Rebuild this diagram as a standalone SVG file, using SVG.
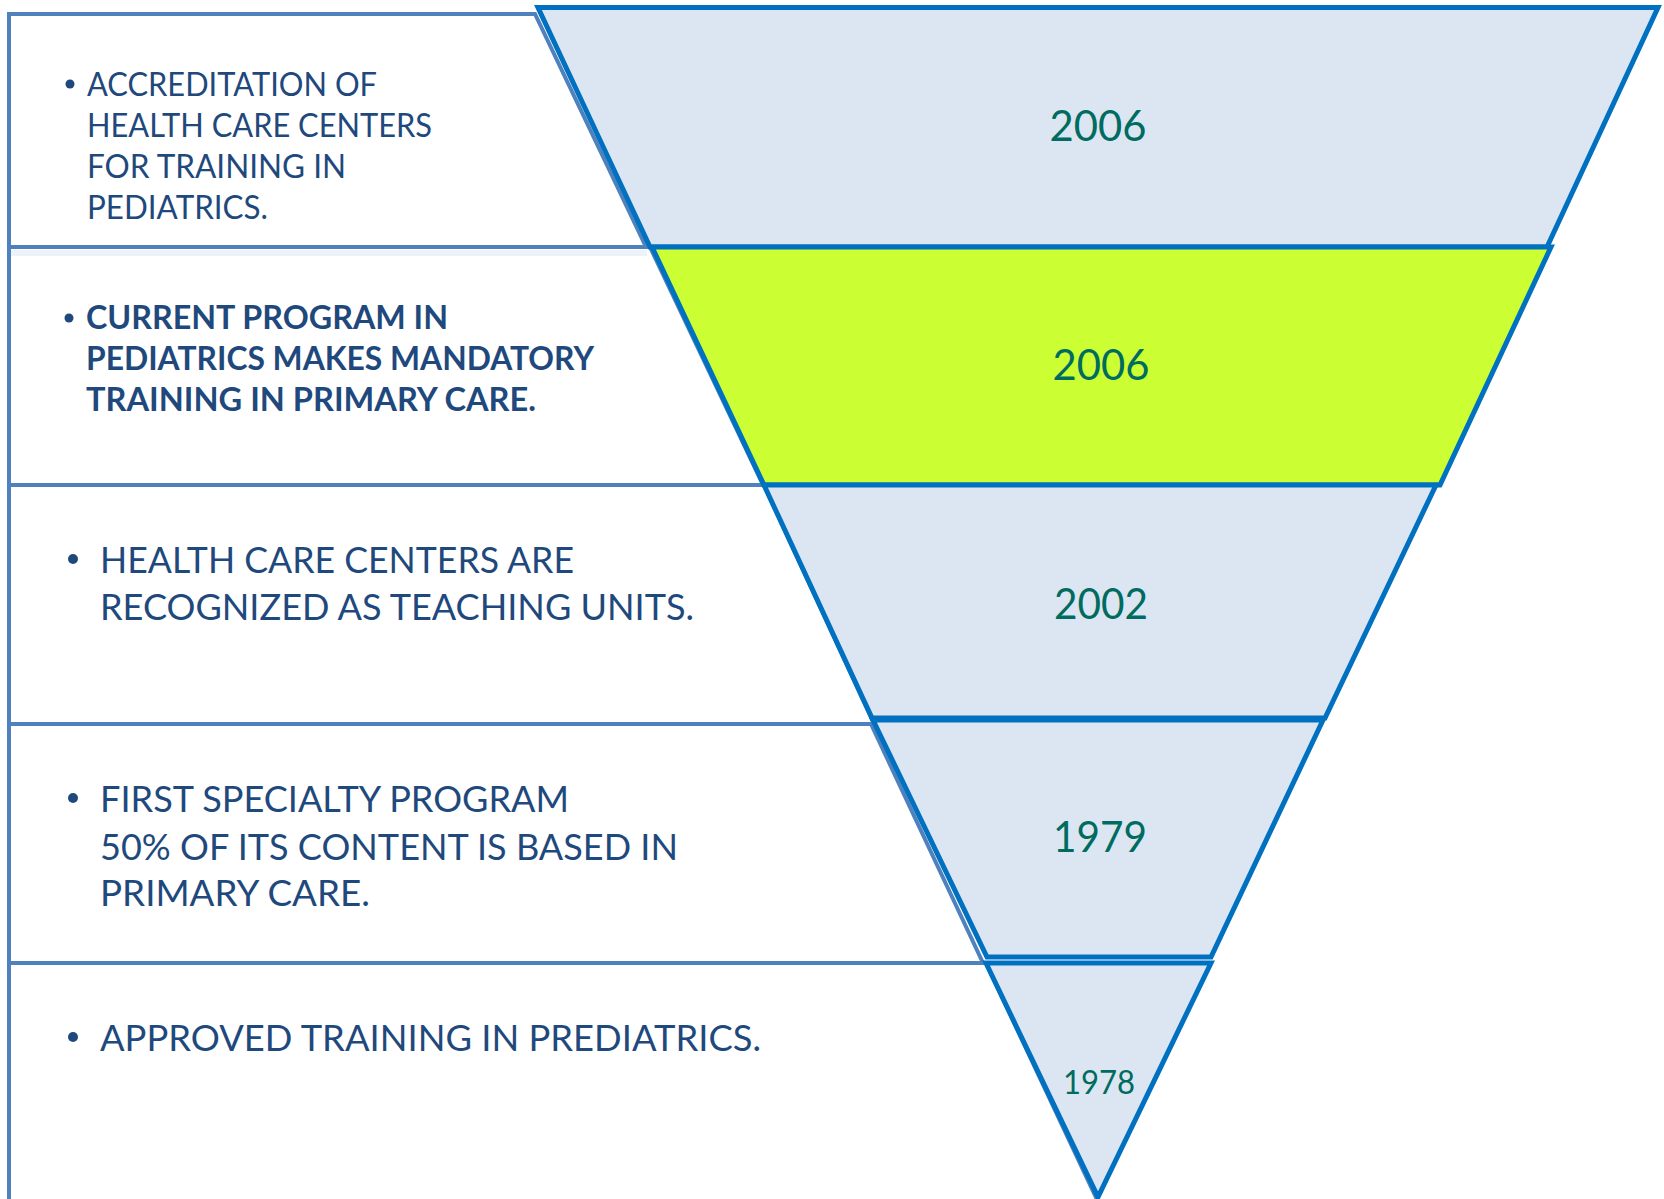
<svg xmlns="http://www.w3.org/2000/svg" width="1664" height="1199" viewBox="0 0 1664 1199">
<style>
.box{fill:#ffffff;stroke:#4f81bd;stroke-width:4;stroke-linejoin:miter}
.seg{fill:#dce6f2;stroke:#0070c0;stroke-width:5;stroke-linejoin:miter}
.hl{fill:#ccff33}
.t{font-family:Lato,"Open Sans","Liberation Sans",sans-serif;fill:#1f497d}
.s{font-size:32px}
.b{font-weight:bold}
.m{font-size:37px}
.yr{font-family:Lato,"Open Sans","Liberation Sans",sans-serif;fill:#006b5f;font-size:42px;text-anchor:middle}
.bul{fill:#1f497d}
</style>
<rect width="1664" height="1199" fill="#ffffff"/>
<g id="boxes">
  <g id="box1">
    <polygon class="box" points="9,14 535,14 646,247 9,247"/>
    <circle class="bul" cx="70" cy="84" r="4.5"/>
    <text class="t s" x="87" y="96" textLength="290" lengthAdjust="spacingAndGlyphs">ACCREDITATION OF</text>
    <text class="t s" x="87" y="137" textLength="345" lengthAdjust="spacingAndGlyphs">HEALTH CARE CENTERS</text>
    <text class="t s" x="87" y="178" textLength="259" lengthAdjust="spacingAndGlyphs">FOR TRAINING IN</text>
    <text class="t s" x="87" y="219" textLength="181" lengthAdjust="spacingAndGlyphs">PEDIATRICS.</text>
  </g>
  <g id="box2">
    <polygon class="box" points="9,247 650,247 763,485 9,485"/>
    <rect x="11" y="250" width="636" height="6" fill="#edf2f9"/>
    <circle class="bul" cx="69" cy="318" r="4.5"/>
    <text class="t s b" x="86" y="329" textLength="362" lengthAdjust="spacingAndGlyphs">CURRENT PROGRAM IN</text>
    <text class="t s b" x="86" y="370" textLength="508" lengthAdjust="spacingAndGlyphs">PEDIATRICS MAKES MANDATORY</text>
    <text class="t s b" x="86" y="411" textLength="450" lengthAdjust="spacingAndGlyphs">TRAINING IN PRIMARY CARE.</text>
  </g>
  <g id="box3">
    <polygon class="box" points="9,485 764,485 874,724 9,724"/>
    <circle class="bul" cx="73" cy="559" r="5"/>
    <text class="t m" x="100" y="573" textLength="474" lengthAdjust="spacingAndGlyphs">HEALTH CARE CENTERS ARE</text>
    <text class="t m" x="100" y="620" textLength="594" lengthAdjust="spacingAndGlyphs">RECOGNIZED AS TEACHING UNITS.</text>
  </g>
  <g id="box4">
    <polygon class="box" points="9,724 871,724 983,963 9,963"/>
    <circle class="bul" cx="73" cy="798" r="5"/>
    <text class="t m" x="100" y="812" textLength="469" lengthAdjust="spacingAndGlyphs">FIRST SPECIALTY PROGRAM</text>
    <text class="t m" x="100" y="860" textLength="578" lengthAdjust="spacingAndGlyphs">50% OF ITS CONTENT IS BASED IN</text>
    <text class="t m" x="100" y="906" textLength="270" lengthAdjust="spacingAndGlyphs">PRIMARY CARE.</text>
  </g>
  <g id="box5">
    <polygon class="box" points="9,963 986,963 1100,1206 9,1206"/>
    <circle class="bul" cx="73" cy="1037" r="5"/>
    <text class="t m" x="100" y="1051" textLength="661" lengthAdjust="spacingAndGlyphs">APPROVED TRAINING IN PREDIATRICS.</text>
  </g>
</g>
<g id="funnel">
  <g id="seg1">
    <polygon class="seg" points="538,7.5 1658,7.5 1547,247 650,247"/>
    <text class="yr" x="1098" y="141" textLength="97" lengthAdjust="spacingAndGlyphs">2006</text>
  </g>
  <g id="seg2">
    <polygon class="seg hl" points="652,247 1551,247 1440,485 764,485"/>
    <text class="yr" x="1101" y="380" textLength="97" lengthAdjust="spacingAndGlyphs">2006</text>
  </g>
  <g id="seg3">
    <polygon class="seg" points="764,485 1436,485 1325,718 872,718"/>
    <text class="yr" x="1101" y="619" textLength="94" lengthAdjust="spacingAndGlyphs">2002</text>
  </g>
  <g id="seg4">
    <polygon class="seg" points="873,720 1323,720 1211,957 987,957"/>
    <text class="yr" x="1100" y="852" textLength="94" lengthAdjust="spacingAndGlyphs">1979</text>
  </g>
  <g id="seg5">
    <polygon class="seg" points="986,963 1211,963 1098,1197"/>
    <text class="yr" x="1099" y="1094" style="font-size:32px" textLength="72" lengthAdjust="spacingAndGlyphs">1978</text>
  </g>
</g>
<g id="connectors"/>
</svg>
